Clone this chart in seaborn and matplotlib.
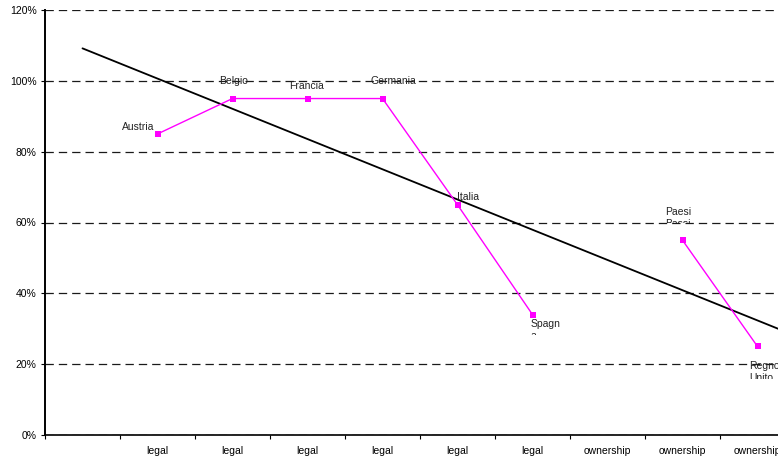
import matplotlib
matplotlib.use("Agg")
import matplotlib.pyplot as plt
import numpy as np
import pandas as pd
import seaborn as sns
from matplotlib.patches import Rectangle
from matplotlib.transforms import IdentityTransform

# category slots along the x axis (slot 0 has no label)
SLOT_LABELS = ["", "legal", "legal", "legal", "legal", "legal", "legal",
               "ownership", "ownership", "ownership"]

COUNTRIES = ["Austria", "Belgio", "Francia", "Germania", "Italia",
             "Spagna", "Paesi Bassi", "Regno Unito"]
COUNTRY_SLOT = [1, 2, 3, 4, 5, 6, 8, 9]
SHARE = [85, 95, 95, 95, 65, 34, 55, 25]
SEGMENT = [0, 0, 0, 0, 0, 0, 1, 1]

# how each data label is wrapped in the original box
LABEL_LINES = {
    "Spagna": ("Spagn", "a"),
    "Paesi Bassi": ("Paesi", "Bassi"),
    "Regno Unito": ("Regno", "Unito"),
}

# label offsets in pixels from the point (dx, dy up), and clip depth of 2nd line
LABEL_OFFSETS = {
    "Austria": (-19, 7),
    "Belgio": (1, 18),
    "Francia": (-1, 13),
    "Germania": (11, 18),
    "Italia": (11, 8),
    "Spagna": (13, -9),
    "Paesi Bassi": (-4, 28),
    "Regno Unito": (7, -20),
}
CLIP_BELOW = {"Spagna": 11, "Paesi Bassi": 11, "Regno Unito": 13}

sns.set_theme(style="white")
plt.rcParams["font.family"] = ["Liberation Sans", "DejaVu Sans"]
plt.rcParams["lines.scale_dashes"] = False

df = pd.DataFrame({"country": COUNTRIES, "slot": COUNTRY_SLOT,
                   "share": SHARE, "segment": SEGMENT})

fig = plt.figure(figsize=(7.78, 4.59), dpi=100)
ax = fig.add_axes([45 / 778, 24 / 459, 750 / 778, 425 / 459])

# linear trend over the whole category range
ax.set_xlim(0, 10)
sns.regplot(data=df, x="slot", y="share", scatter=False, ci=None,
            truncate=False, color="black", line_kws=dict(lw=1.3), ax=ax)

sns.lineplot(data=df, x="slot", y="share", units="segment", estimator=None,
             sort=False, color="#FF00FF", lw=1.0, ax=ax)
sns.scatterplot(data=df, x="slot", y="share", marker="s", s=16,
                color="#FF00FF", linewidth=0, ax=ax, zorder=4)

ax.set_xlim(-0.5, 9.5)
ax.set_ylim(0, 120)
ax.set_xlabel("")
ax.set_ylabel("")

ax.set_yticks(np.arange(0, 121, 20))
ax.set_yticklabels([f"{v}%" for v in range(0, 121, 20)])
ax.tick_params(axis="y", direction="out", length=3, width=0.8, pad=3,
               labelsize=7.5, colors="black", left=True)

ax.set_xticks(np.arange(-0.5, 10, 1))
ax.set_xticklabels([])
ax.set_xticks(np.arange(0, 10), minor=True)
ax.set_xticklabels(SLOT_LABELS, minor=True)
ax.tick_params(axis="x", which="major", direction="out", length=3,
               width=0.8, colors="black", bottom=True)
ax.tick_params(axis="x", which="minor", length=0, pad=8, labelsize=7.5,
               labelcolor="black", bottom=True)

ax.yaxis.grid(True, color="#1a1a1a", lw=0.9, linestyle=(0, (6, 3.6)))
ax.set_axisbelow(True)

for side in ["top", "right"]:
    ax.spines[side].set_visible(False)
ax.spines["left"].set_color("black")
ax.spines["left"].set_linewidth(1.4)
ax.spines["bottom"].set_color("black")
ax.spines["bottom"].set_linewidth(1.2)

fig.canvas.draw()
renderer = fig.canvas.get_renderer()
for name, x, y in zip(COUNTRIES, COUNTRY_SLOT, SHARE):
    dx, dy = LABEL_OFFSETS[name]
    lines = LABEL_LINES.get(name, (name,))
    first = ax.annotate(lines[0], (x, y), xytext=(dx, dy),
                        textcoords="offset pixels", ha="center", va="center",
                        fontsize=7.5, color="#222222", annotation_clip=False)
    if len(lines) > 1:
        px, py = ax.transData.transform((x, y))
        left = first.get_window_extent(renderer).x0
        t = ax.annotate(lines[1], (x, y), xytext=(left - px, dy - 12),
                        textcoords="offset pixels", ha="left", va="center",
                        fontsize=7.5, color="#222222", annotation_clip=False)
        bottom = py + dy - CLIP_BELOW[name]
        clip = Rectangle((left - 5, bottom), 80, 40,
                         transform=IdentityTransform())
        t.set_clip_path(clip)

fig.savefig("out.png", dpi=100)
